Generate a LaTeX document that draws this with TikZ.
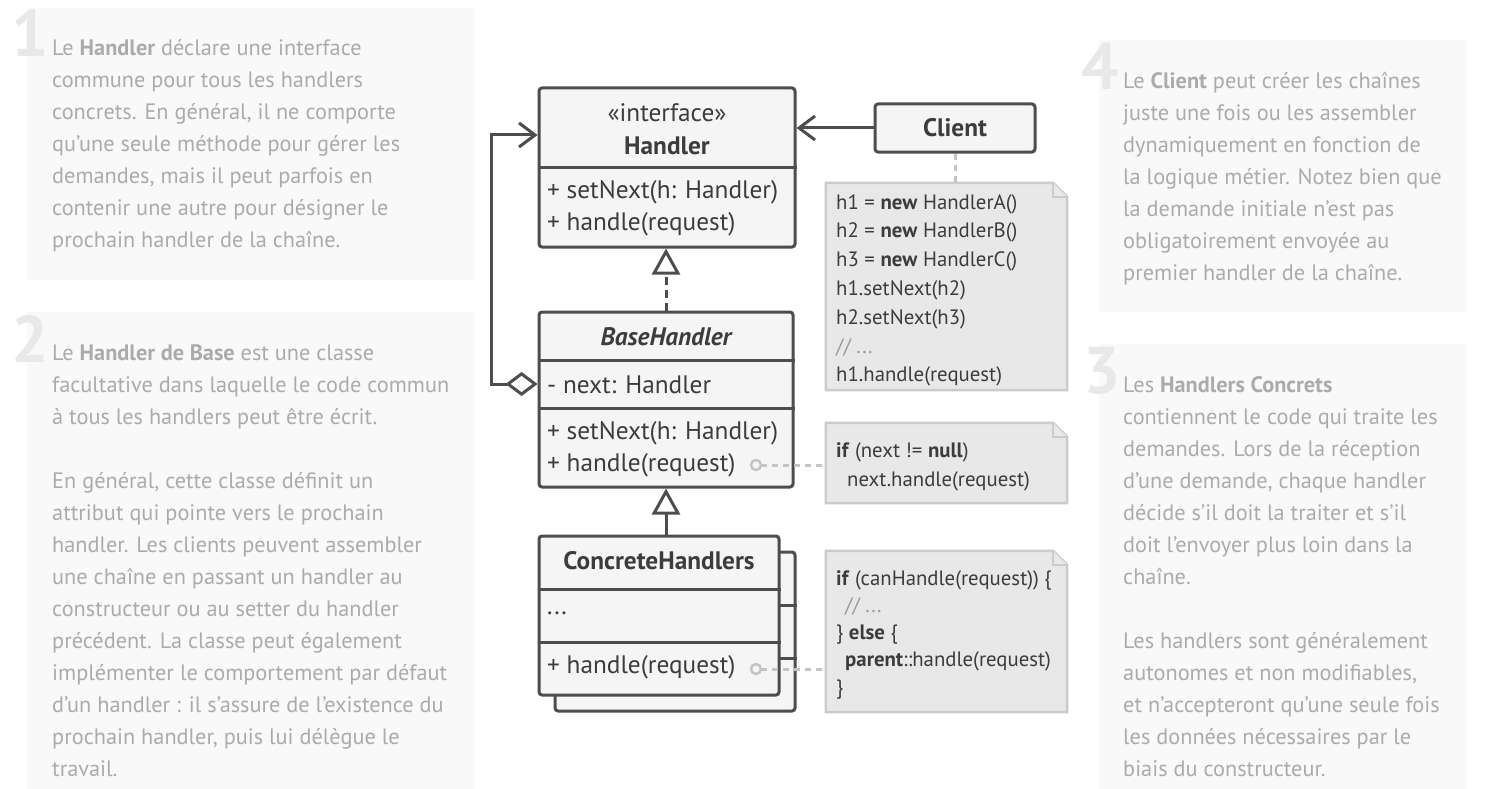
\documentclass[tikz,border=0pt]{standalone}
\usepackage{fontspec}
\setmainfont{PT Sans}
\usetikzlibrary{arrows.meta,calc}
\definecolor{panel}{HTML}{F9F9F9}
\definecolor{numc}{HTML}{E8E8E8}
\definecolor{txt}{HTML}{ABABAB}
\definecolor{uml}{HTML}{4D4D4D}
\definecolor{umlfill}{HTML}{F5F5F5}
\definecolor{notefill}{HTML}{E8E8E8}
\definecolor{noteline}{HTML}{CBCBCB}
\definecolor{umltext}{HTML}{3C3C3C}
\definecolor{cmt}{HTML}{9A9A9A}
\definecolor{dotc}{HTML}{C4C4C4}
\tikzset{
  panelbg/.style={fill=panel},
  numtxt/.style={anchor=base west, inner sep=0, text=numc, font=\fontsize{66}{66}\selectfont\bfseries},
  bodytxt/.style={anchor=north west, inner sep=0, text=txt, align=left, font=\fontsize{22.3}{32}\selectfont},
  umlbox/.style={draw=uml, fill=umlfill, line width=3pt, rounded corners=3pt, inner sep=0},
  umlline/.style={draw=uml, line width=3pt},
  umltxt/.style={inner sep=0, text=umltext, font=\fontsize{25.3}{32}\selectfont},
  umlbold/.style={umltxt, font=\fontsize{25.3}{32}\selectfont\bfseries},
  notebox/.style={inner sep=0},
  noteline/.style={draw=noteline, fill=notefill, line width=2.5pt, line join=miter},
  codetxt/.style={anchor=north west, inner sep=0, text=umltext, align=left},
  dotline/.style={draw=dotc, line width=3pt, dash pattern=on 6pt off 5pt},
  hollowtri/.style={-{Triangle[open,length=26pt,width=28pt,line width=3pt]}},
  barb/.style={-{Straight Barb[length=16pt,width=24pt,line width=3pt]}},
}
\newcommand{\noteoutline}[1]{%
  \path[noteline] (#1.north west) -- ($(#1.north east)+(-14,0)$) -- ($(#1.north east)+(0,14)$) -- (#1.south east) -- (#1.south west) -- cycle;
  \path[noteline] ($(#1.north east)+(-14,0)$) -- ($(#1.north east)+(-14,14)$) -- ($(#1.north east)+(0,14)$);
}
\begin{document}
\begin{tikzpicture}[x=1pt,y=-1pt]
\useasboundingbox[fill=white] (0,0) rectangle (1509,789);

% ---------- panels ----------
\path[panelbg] (27,8) rectangle (475,280);
\path[panelbg] (27,312) rectangle (475,789);
\path[panelbg] (1099,40) rectangle (1467,312);
\path[panelbg] (1099,344) rectangle (1467,789);

\node[numtxt] (n1) at (11,57) {1};
\node[numtxt] (n2) at (11,362) {2};
\node[numtxt] (n4) at (1081,90) {4};
\node[numtxt] (n3) at (1083,393) {3};

\node[bodytxt] (t1) at (52,32.6) {\strut Le \textbf{Handler} déclare une interface\\
commune pour tous les handlers\\
concrets. En général, il ne comporte\\
qu’une seule méthode pour gérer les\\
demandes, mais il peut parfois en\\
contenir une autre pour désigner le\\
prochain handler de la chaîne.};

\node[bodytxt] (t2) at (52,337.6) {\strut Le \textbf{Handler de Base} est une classe\\
facultative dans laquelle le code commun\\
à tous les handlers peut être écrit.\\
\mbox{}\\
En général, cette classe définit un\\
attribut qui pointe vers le prochain\\
handler. Les clients peuvent assembler\\
une chaîne en passant un handler au\\
constructeur ou au setter du handler\\
précédent. La classe peut également\\
implémenter le comportement par défaut\\
d’un handler : il s’assure de l’existence du\\
prochain handler, puis lui délègue le\\
travail.};

\node[bodytxt] (t4) at (1123,65.6) {\strut Le \textbf{Client} peut créer les chaînes\\
juste une fois ou les assembler\\
dynamiquement en fonction de\\
la logique métier. Notez bien que\\
la demande initiale n’est pas\\
obligatoirement envoyée au\\
premier handler de la chaîne.};

\node[bodytxt] (t3) at (1123,369.6) {\strut Les \textbf{Handlers Concrets}\\
contiennent le code qui traite les\\
demandes. Lors de la réception\\
d’une demande, chaque handler\\
décide s’il doit la traiter et s’il\\
doit l’envoyer plus loin dans la\\
chaîne.\\
\mbox{}\\
Les handlers sont généralement\\
autonomes et non modifiables,\\
et n’accepteront qu’une seule fois\\
les données nécessaires par le\\
biais du constructeur.};

% ---------- notes ----------
\node[notebox, minimum width=241, minimum height=207] (note1) at (946.5,286.5) {};
\noteoutline{note1}
\node[codetxt, font=\fontsize{20.8}{28.8}\selectfont] (c1) at (836,188.8) {\strut h1 = \textbf{new} HandlerA()\\
h2 = \textbf{new} HandlerB()\\
h3 = \textbf{new} HandlerC()\\
h1.setNext(h2)\\
h2.setNext(h3)\\
\textcolor{cmt}{// ...}\\
h1.handle(request)};

\node[notebox, minimum width=241, minimum height=80] (note2) at (946.5,463) {};
\noteoutline{note2}
\node[codetxt, font=\fontsize{20.8}{29}\selectfont] (c2) at (836,436.7) {\strut\textbf{if} (next != \textbf{null})\\
\hspace*{11pt}next.handle(request)};

\node[notebox, minimum width=241, minimum height=161] (note3) at (946.5,631.5) {};
\noteoutline{note3}
\node[codetxt, font=\fontsize{20.8}{27.25}\selectfont] (c3) at (836,565.9) {\strut\textbf{if} (canHandle(request)) \{\\
\hspace*{9pt}\textcolor{cmt}{// ...}\\
\} \textbf{else} \{\\
\hspace*{9pt}\textbf{parent}::handle(request)\\
\}};

% ---------- Handler ----------
\node[umlbox, minimum width=256, minimum height=159] (handler) at (667,167.5) {};
\draw[umlline] (handler.west |- 0,167) -- (handler.east |- 0,167);
\node[umltxt] (hst) at (667,113) {«interface»};
\node[umlbold] (hname) at (667,146) {Handler};
\node[umltxt, anchor=west] (hm1) at (547,192) {+ setNext(h: Handler)};
\node[umltxt, anchor=west] (hm2) at (547,224) {+ handle(request)};

% ---------- Client ----------
\node[umlbox, minimum width=160, minimum height=48] (client) at (955,128) {};
\node[umlbold] (cname) at (955,128) {Client};

% ---------- BaseHandler ----------
\node[umlbox, minimum width=254, minimum height=175] (base) at (666,399.5) {};
\draw[umlline] (base.west |- 0,360) -- (base.east |- 0,360);
\draw[umlline] (base.west |- 0,408) -- (base.east |- 0,408);
\node[umltxt, font=\fontsize{25.3}{32}\selectfont\bfseries\itshape] (bname) at (666,337) {BaseHandler};
\node[umltxt, anchor=west] (ba1) at (547,385) {- next: Handler};
\node[umltxt, anchor=west] (bm1) at (547,433) {+ setNext(h: Handler)};
\node[umltxt, anchor=west] (bm2) at (547,465) {+ handle(request)};

% ---------- ConcreteHandlers ----------
\node[umlbox, minimum width=240, minimum height=159] (concb) at (675,631.5) {};
\draw[umlline] (concb.west |- 0,605) -- (concb.east |- 0,605);
\draw[umlline] (concb.west |- 0,658) -- (concb.east |- 0,658);
\node[umlbox, minimum width=240, minimum height=159] (conc) at (659,615.5) {};
\draw[umlline] (conc.west |- 0,589) -- (conc.east |- 0,589);
\draw[umlline] (conc.west |- 0,642) -- (conc.east |- 0,642);
\node[umlbold] (cname2) at (659,561) {ConcreteHandlers};
\node[umltxt, anchor=west] (ca1) at (547,613) {...};
\node[umltxt, anchor=west] (cm1) at (547,667) {+ handle(request)};

% ---------- connectors ----------
\draw[umlline, barb] (client.west) -- (handler.east |- client.west);
\draw[dotline] (client.south) -- (note1.north -| client.south);

\draw[umlline, hollowtri, dash pattern=on 8pt off 5pt] (base.north -| 666,0) -- (handler.south -| 666,0);
\draw[umlline, hollowtri] (conc.north -| 666,0) -- (base.south -| 666,0);

\coordinate (aggL) at (491,384);
\coordinate (aggT) at (491,135);
\draw[umlline, line join=miter, {Diamond[open,length=32pt,width=24pt,line width=3pt]}-{Straight Barb[length=16pt,width=24pt,line width=3pt]}]
  (base.west |- aggL) -- (aggL) -- (aggT) -- (handler.west |- aggT);

\coordinate (o1) at (756,465);
\coordinate (o2) at (756,669);
\draw[dotline] (o1) ++(5,0) -- (note2.west |- o1);
\draw[dotline] (o2) ++(5,0) -- (note3.west |- o2);
\draw[draw=dotc, line width=2.5pt, fill=umlfill] (o1) circle (5);
\draw[draw=dotc, line width=2.5pt, fill=umlfill] (o2) circle (5);
\end{tikzpicture}
\end{document}
